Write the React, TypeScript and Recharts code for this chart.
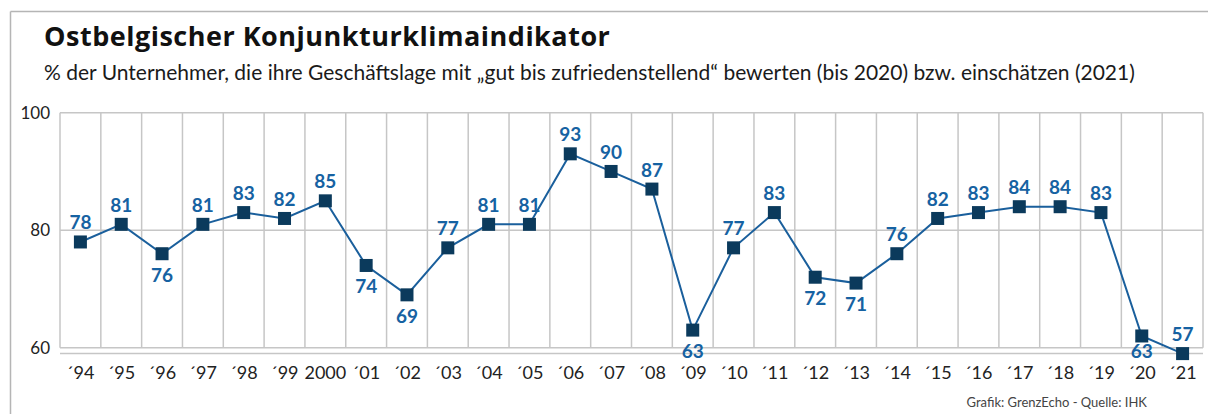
import React from 'react';
import { LineChart, Line, XAxis, YAxis, CartesianGrid, ReferenceLine, LabelList } from 'recharts';

const years = ['´94', '´95', '´96', '´97', '´98', '´99', '2000', '´01', '´02', '´03', '´04', '´05', '´06', '´07', '´08', '´09', '´10', '´11', '´12', '´13', '´14', '´15', '´16', '´17', '´18', '´19', '´20', '´21'];
const values = [78, 81, 76, 81, 83, 82, 85, 74, 69, 77, 81, 81, 93, 90, 87, 63, 77, 83, 72, 71, 76, 82, 83, 84, 84, 83, 62, 59];
const valueLabels = ['78', '81', '76', '81', '83', '82', '85', '74', '69', '77', '81', '81', '93', '90', '87', '63', '77', '83', '72', '71', '76', '82', '83', '84', '84', '83', '63', '57'];
const labelsBelow = ['´96', '´01', '´02', '´09', '´12', '´13', '´20'];
const labelsTight = ['´20'];
const yTicks = [60, 80, 100];

const title = 'Ostbelgischer Konjunkturklimaindikator';
const subtitle = '% der Unternehmer, die ihre Geschäftslage mit „gut bis zufriedenstellend“ bewerten (bis 2020) bzw. einschätzen (2021)';
const footer = 'Grafik: GrenzEcho - Quelle: IHK';

const data = years.map((year, i) => ({ i, year, value: values[i], label: valueLabels[i] }));
const boundaries = years.map((_, i) => i - 0.5).concat([years.length - 0.5]);

const GRID = '#c6c6c6';
const LINE = '#1a5f9c';
const MARK = '#0b3a5c';
const LABEL = '#1662a2';
const FONT = 'Lato, "Open Sans", sans-serif';

const SquareDot = (p: any) => (
  <rect key={`dot-${p.index}`} x={p.cx - 6.5} y={p.cy - 6.5} width={13} height={13} fill={MARK} />
);

const ValueLabel = (p: any) => {
  const vb = p.viewBox || {};
  const x = vb.x ?? p.x;
  const y = vb.y ?? p.y;
  const yr = years[p.index];
  const below = labelsBelow.includes(yr);
  const dy = below ? (labelsTight.includes(yr) ? 22 : 28) : -12.5;
  return (
    <text x={x} y={y + dy} textAnchor="middle" fill={LABEL} fontFamily={FONT} fontWeight={700} fontSize={19}>
      {p.value}
    </text>
  );
};

export default function App() {
  return (
    <div style={{ position: 'absolute', left: 0, top: 0, width: 1208, height: 414, background: '#fff' }}>
      <svg width={1208} height={414} style={{ position: 'absolute', left: 0, top: 0 }}>
        <line x1={10.5} y1={11.5} x2={1208} y2={11.5} stroke="#b5b5b5" strokeWidth={1.5} />
        <line x1={10.5} y1={11.5} x2={10.5} y2={414} stroke="#b5b5b5" strokeWidth={1.5} />
        <text x={44} y={46} fontFamily='"Open Sans", sans-serif' fontWeight={700} fontSize={27} letterSpacing={0.5} fill="#111">
          {title}
        </text>
        <text x={44} y={79.5} fontFamily={FONT} fontSize={21} fill="#1a1a1a">
          {subtitle}
        </text>
        <text x={1147} y={407} textAnchor="end" fontFamily={FONT} fontSize={13} fill="#444">
          {footer}
        </text>
      </svg>
      <div style={{ position: 'absolute', left: 0, top: 0 }}>
        <LineChart width={1208} height={414} data={data} margin={{ top: 112.7, right: 5, bottom: 30.4, left: 0 }}>
          <CartesianGrid vertical={false} stroke={GRID} strokeWidth={1.5} />
          {boundaries.map((b) => (
            <ReferenceLine
              key={`b-${b}`}
              segment={[{ x: b, y: 60 }, { x: b, y: 100 }]}
              stroke={GRID}
              strokeWidth={1.5}
              ifOverflow="visible"
            />
          ))}
          <XAxis
            dataKey="i"
            type="number"
            domain={[-0.5, years.length - 0.5]}
            ticks={years.map((_, i) => i)}
            tickFormatter={(v: number) => years[v]}
            interval={0}
            axisLine={false}
            tickLine={false}
            tickSize={0}
            tickMargin={13}
            height={30}
            tick={{ fill: '#222', fontSize: 18, fontFamily: FONT }}
          />
          <YAxis
            type="number"
            domain={[59, 100]}
            ticks={yTicks}
            interval={0}
            axisLine={false}
            tickLine={false}
            tickSize={0}
            tickMargin={10}
            width={60}
            tick={{ fill: '#222', fontSize: 17, fontFamily: FONT }}
          />
          <Line
            dataKey="value"
            stroke={LINE}
            strokeWidth={2}
            dot={SquareDot}
            activeDot={false}
            isAnimationActive={false}
          >
            <LabelList dataKey="label" content={ValueLabel} />
          </Line>
        </LineChart>
      </div>
    </div>
  );
}
